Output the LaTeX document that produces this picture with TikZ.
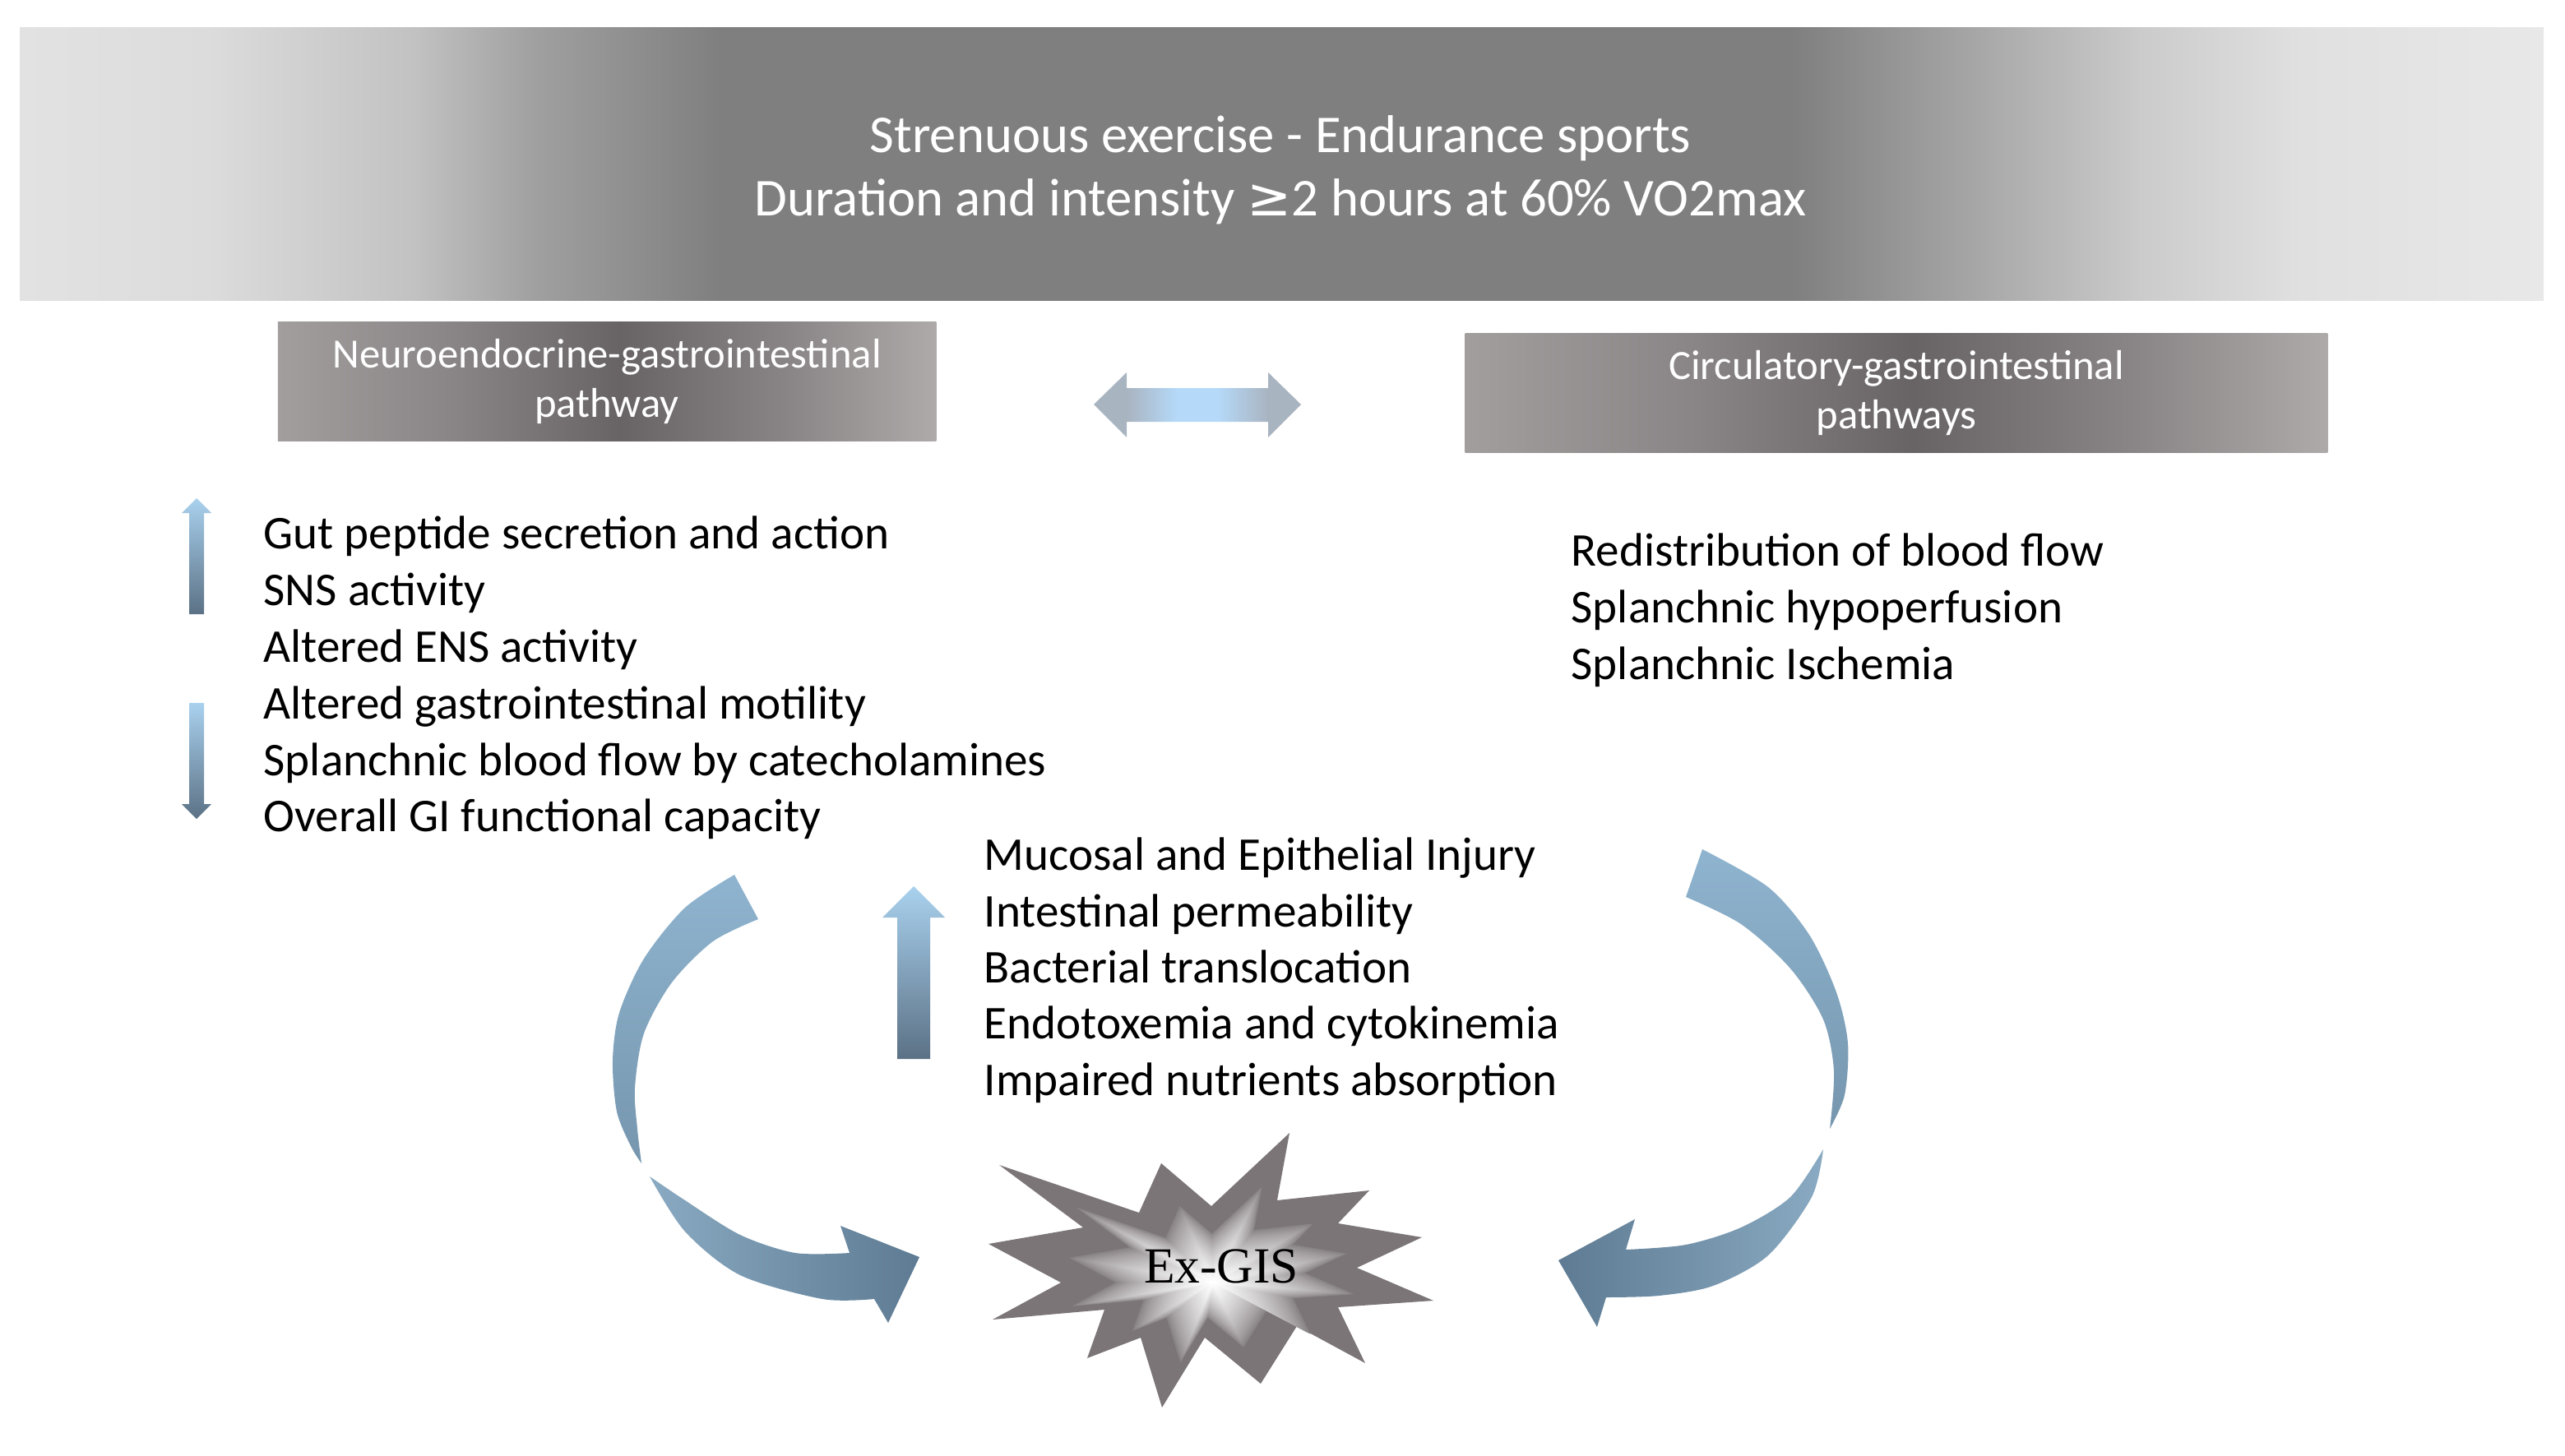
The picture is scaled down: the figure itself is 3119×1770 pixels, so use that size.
\documentclass[tikz,border=0pt]{standalone}
\usepackage{fontspec}
\setmainfont{Carlito}
\newfontfamily\symf{DejaVu Sans}
\newfontfamily\serf{Liberation Serif}
\definecolor{bn0}{HTML}{E2E2E2}
\definecolor{bn1}{HTML}{DCDCDC}
\definecolor{bn2}{HTML}{C2C2C2}
\definecolor{bn3}{HTML}{A0A0A0}
\definecolor{bn4}{HTML}{7F7F7F}
\definecolor{bn5}{HTML}{A6A6A6}
\definecolor{bn6}{HTML}{CBCBCB}
\definecolor{bn7}{HTML}{E0E0E0}
\definecolor{bn8}{HTML}{E8E8E8}
\definecolor{bx0}{HTML}{A39E9E}
\definecolor{bx1}{HTML}{8A8586}
\definecolor{bx2}{HTML}{686465}
\definecolor{bx3}{HTML}{AFAAAA}
\definecolor{da0}{HTML}{A9B4C1}
\definecolor{da1}{HTML}{B5D9F8}
\definecolor{ua1}{HTML}{A9D1EE}
\definecolor{ua2}{HTML}{5B7185}
\definecolor{ca1}{HTML}{8FB4CF}
\definecolor{ca2}{HTML}{7696AE}
\definecolor{cb1}{HTML}{89AAC2}
\definecolor{cb2}{HTML}{5E7B93}
\definecolor{starg}{HTML}{7B7577}
\pgfdeclarehorizontalshading{bannershade}{100bp}{color(0bp)=(bn0); color(25bp)=(bn0); color(28.7bp)=(bn1); color(32.8bp)=(bn2); color(35.2bp)=(bn3); color(38.9bp)=(bn4); color(60.1bp)=(bn4); color(63.7bp)=(bn5); color(67bp)=(bn6); color(70.2bp)=(bn7); color(75bp)=(bn8); color(100bp)=(bn8)}
\pgfdeclarehorizontalshading{boxshade}{100bp}{color(0bp)=(bx0); color(25bp)=(bx0); color(38bp)=(bx1); color(51bp)=(bx2); color(64bp)=(bx1); color(75bp)=(bx3); color(100bp)=(bx3)}
\pgfdeclarehorizontalshading{dblshade}{100bp}{color(0bp)=(da0); color(25bp)=(da0); color(33bp)=(da0); color(45bp)=(da1); color(55bp)=(da1); color(67bp)=(da0); color(75bp)=(da0); color(100bp)=(da0)}
\newcommand{\burst}[1]{\fill[#1] (93,-182) -- (78,-100) -- (190,-112) -- (152,-72) -- (254,-55) -- (175,-18) -- (268,22) -- (152,30) -- (185,98) -- (102,53) -- (58,123) -- (-10,67) -- (-62,152) -- (-88,67) -- (-153,92) -- (-132,33) -- (-268,45) -- (-185,0) -- (-273,-47) -- (-158,-67) -- (-260,-143) -- (-90,-85) -- (-63,-145) -- (-2,-93) -- cycle;}
\tikzset{
  item/.style={anchor=base west, inner sep=0pt, font=\fontsize{16.25}{19}\selectfont},
  bannertext/.style={align=center, text=white, inner sep=0pt, font=\fontsize{18.4}{21.9}\selectfont},
  pathbox/.style={shade, shading=boxshade, align=center, text=white, inner sep=0pt, font=\fontsize{14.4}{16.8}\selectfont},
  exlabel/.style={inner sep=0pt, font=\serf\fontsize{17.5}{20}\selectfont}
}
\begin{document}
\begin{tikzpicture}[x=0.01cm, y=-0.01cm]
\useasboundingbox (0,0) rectangle (3119,1770);
% banner
\shade[shading=bannershade] (24,34) rectangle (3093,366);
\node[bannertext] (title) at (1557,207) {Strenuous exercise - Endurance sports\\Duration and intensity {\symf ≥}2 hours at 60\% VO2max};
% pathway boxes
\node[pathbox, minimum width=8cm, minimum height=1.44cm] (neuro) at (738,464) {Neuroendocrine-gastrointestinal\\pathway};
\node[pathbox, minimum width=10.48cm, minimum height=1.45cm] (circ) at (2306,478) {Circulatory-gastrointestinal\\pathways};
% double arrow
\shade[shading=dblshade] (1330,492) -- (1370,453) -- (1370,472) -- (1542,472) -- (1542,453) -- (1582,492) -- (1542,532) -- (1542,513) -- (1370,513) -- (1370,532) -- cycle;
% left thin arrows
\shade[top color=ua1, bottom color=ua2] (239,606) -- (257,624) -- (248,624) -- (248,747) -- (230,747) -- (230,624) -- (221,624) -- cycle;
\shade[top color=ua1, bottom color=ua2] (230,855) -- (248,855) -- (248,978) -- (257,978) -- (239,996) -- (221,978) -- (230,978) -- cycle;
% left list
\node[item] (n1) at (320,667) {Gut peptide secretion and action};
\node[item] (n2) at (320,736) {SNS activity};
\node[item] (n3) at (320,805) {Altered ENS activity};
\node[item] (n4) at (320,874) {Altered gastrointestinal motility};
\node[item] (n5) at (320,943) {Splanchnic blood flow by catecholamines};
\node[item] (n6) at (320,1011) {Overall GI functional capacity};
% right list
\node[item] (c1) at (1910,688) {Redistribution of blood flow};
\node[item] (c2) at (1910,757) {Splanchnic hypoperfusion};
\node[item] (c3) at (1910,826) {Splanchnic Ischemia};
% middle arrow and list
\shade[top color=ua1, bottom color=ua2] (1111,1078) -- (1149,1116) -- (1131,1116) -- (1131,1288) -- (1091,1288) -- (1091,1116) -- (1073,1116) -- cycle;
\node[item] (m1) at (1196,1058) {Mucosal and Epithelial Injury};
\node[item] (m2) at (1196,1127) {Intestinal permeability};
\node[item] (m3) at (1196,1195) {Bacterial translocation};
\node[item] (m4) at (1196,1263) {Endotoxemia and cytokinemia};
\node[item] (m5) at (1196,1332) {Impaired nutrients absorption};
% left curved arrow
\shade[top color=ca1, bottom color=ca2] plot[smooth] coordinates {(893,1064) (833,1104) (783,1166) (753,1232) (745,1290) (750,1352) (767,1394) (780,1415)} -- plot[smooth] coordinates {(780,1415) (775,1373) (772,1323) (783,1257) (817,1195) (867,1145) (922,1118)} -- cycle;
\shade[left color=cb1, right color=cb2] plot[smooth] coordinates {(790,1431) (833,1498) (900,1551) (1000,1580) (1063,1580)} -- (1080,1609) -- (1118,1529) -- (1022,1491) -- plot[smooth] coordinates {(1033,1524) (967,1524) (900,1502) (833,1460) (790,1431)} -- cycle;
% right curved arrow
\shade[top color=ca1, bottom color=ca2] plot[smooth] coordinates {(2070,1033) (2150,1079) (2200,1137) (2233,1207) (2247,1269) (2243,1332) (2225,1373)} -- plot[smooth] coordinates {(2225,1373) (2230,1303) (2217,1240) (2177,1178) (2117,1124) (2050,1091)} -- cycle;
\shade[right color=cb1, left color=cb2] plot[smooth] coordinates {(2217,1398) (2203,1456) (2150,1527) (2083,1564) (2017,1576) (1953,1578)} -- (1942,1614) -- (1895,1533) -- (1988,1483) -- plot[smooth] coordinates {(1977,1520) (2050,1514) (2117,1493) (2177,1456) (2217,1398)} -- cycle;
% star
\begin{scope}[shift={(1475,1560)}]
  \burst{starg}
  \foreach \i in {1,...,32}{
    \pgfmathsetmacro\s{0.66*(1-\i/33)}
    \pgfmathsetmacro\p{100*(\i/32)^0.65}
    \begin{scope}[scale=\s]
      \burst{white!\p!starg}
    \end{scope}
  }
\end{scope}
\node[exlabel] (exgis) at (1485,1540) {Ex-GIS};
\end{tikzpicture}
\end{document}
